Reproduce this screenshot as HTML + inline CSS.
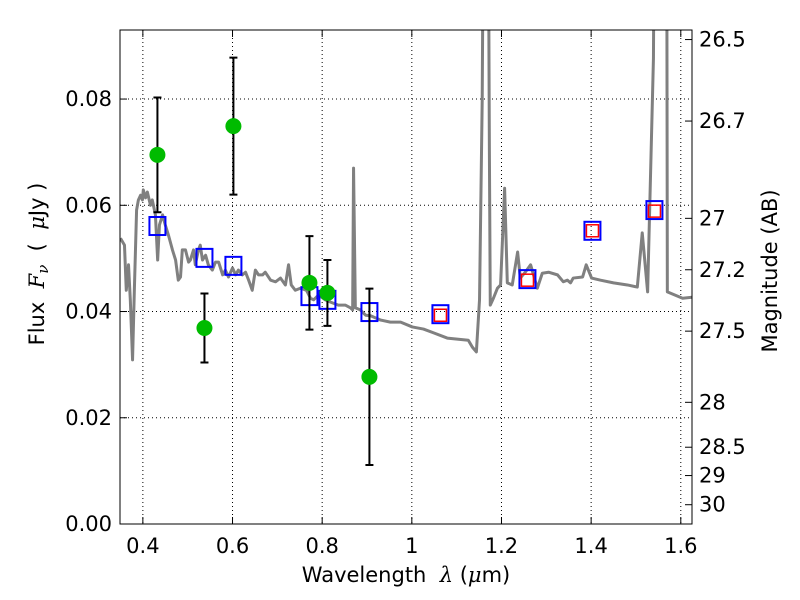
<!DOCTYPE html>
<html><head><meta charset="utf-8"><style>
body{margin:0;background:#fff;}
svg{display:block;font-family:"DejaVu Sans","Liberation Sans",sans-serif;}
</style></head><body>
<svg id="chart" width="800" height="600" xmlns="http://www.w3.org/2000/svg">
<defs><clipPath id="clip"><rect x="120" y="30" width="572" height="494"/></clipPath></defs>
<rect x="0" y="0" width="800" height="600" fill="#fff"/>
<g id="grid"></g>
<g id="spec" clip-path="url(#clip)"></g>
<g id="marks"></g>
<rect x="120" y="30" width="572" height="494" fill="none" stroke="#000" stroke-width="1"/>
<g id="axes"></g>
<text x="406" y="582" font-size="21" text-anchor="middle">Wavelength&#160;&#160;<tspan font-family="DejaVu Serif" font-style="italic">λ</tspan>&#160;(<tspan font-family="DejaVu Serif" font-style="italic">μ</tspan>m)</text>
<text transform="translate(44,264) rotate(-90)" font-size="21" text-anchor="middle">Flux&#160;&#160;<tspan font-family="DejaVu Serif" font-style="italic">F<tspan font-size="15" dy="4">ν</tspan></tspan><tspan dy="-4">&#160;&#160;(&#160;&#160;</tspan><tspan font-family="DejaVu Serif" font-style="italic">μ</tspan>Jy&#160;)</text>
<text transform="translate(777,271) rotate(-90)" font-size="21" text-anchor="middle">Magnitude (AB)</text>
</svg>
<script>
const specWave=[0.350,0.359,0.363,0.368,0.372,0.377,0.381,0.386,0.390,0.395,0.399,0.401,0.406,0.410,0.417,0.421,0.428,0.433,0.437,0.444,0.450,0.457,0.466,0.473,0.479,0.484,0.488,0.495,0.502,0.506,0.513,0.517,0.524,0.528,0.533,0.540,0.546,0.555,0.562,0.569,0.578,0.584,0.591,0.600,0.607,0.613,0.622,0.629,0.636,0.644,0.651,0.658,0.667,0.673,0.685,0.696,0.707,0.718,0.725,0.731,0.740,0.752,0.765,0.774,0.781,0.792,0.807,0.818,0.836,0.852,0.863,0.868,0.870,0.874,0.885,0.897,0.908,0.919,0.930,0.952,0.975,1.001,1.026,1.048,1.079,1.126,1.135,1.144,1.151,1.157,1.162,1.169,1.173,1.175,1.182,1.191,1.198,1.207,1.213,1.224,1.236,1.242,1.253,1.265,1.280,1.291,1.305,1.325,1.338,1.347,1.354,1.360,1.381,1.389,1.401,1.421,1.450,1.481,1.503,1.514,1.526,1.539,1.543,1.568,1.570,1.604,1.626];
const specFlux=[0.0538,0.0525,0.0440,0.0488,0.0422,0.0309,0.0440,0.0591,0.0610,0.0619,0.0610,0.0629,0.0614,0.0625,0.0600,0.0610,0.0582,0.0497,0.0563,0.0582,0.0563,0.0544,0.0516,0.0497,0.0459,0.0465,0.0516,0.0516,0.0493,0.0497,0.0516,0.0488,0.0516,0.0525,0.0497,0.0506,0.0488,0.0478,0.0493,0.0493,0.0469,0.0478,0.0465,0.0482,0.0469,0.0478,0.0469,0.0474,0.0459,0.0440,0.0478,0.0469,0.0469,0.0474,0.0459,0.0456,0.0463,0.0450,0.0488,0.0450,0.0440,0.0444,0.0440,0.0425,0.0422,0.0431,0.0422,0.0418,0.0412,0.0412,0.0407,0.0403,0.0670,0.0407,0.0403,0.0393,0.0392,0.0388,0.0384,0.0380,0.0380,0.0371,0.0367,0.0360,0.0350,0.0346,0.0333,0.0324,0.0422,0.0798,0.15,0.15,0.0704,0.0412,0.0425,0.0444,0.0450,0.0632,0.0454,0.0450,0.0512,0.0463,0.0474,0.0488,0.0444,0.0472,0.0474,0.0469,0.0456,0.0459,0.0454,0.0463,0.0465,0.0488,0.0463,0.0459,0.0454,0.0450,0.0446,0.0548,0.0437,0.0877,0.15,0.15,0.0437,0.0425,0.0427];
const modelWave=[0.4325,0.5374,0.602,0.7716,0.8117,0.9054,1.0638,1.2579,1.4029,1.5412];
const modelFlux=[0.0561,0.0501,0.0486,0.0429,0.0422,0.0399,0.0395,0.0461,0.0552,0.0591];
const redWave=[1.0638,1.2579,1.4029,1.5412];
const redFlux=[0.0393,0.0459,0.0552,0.0589];
const obsWave=[0.4325,0.5374,0.602,0.7716,0.8117,0.9054];
const obsFlux=[0.0695,0.0369,0.0749,0.0454,0.0435,0.0277];
const obsErr=[0.0108,0.0065,0.0129,0.0088,0.0062,0.0166];
const xTicks=[0.4,0.6,0.8,1.0,1.2,1.4,1.6];
const xTickLabels=["0.4","0.6","0.8","1","1.2","1.4","1.6"];
const yTicks=[0,0.02,0.04,0.06,0.08];
const yTickLabels=["0.00","0.02","0.04","0.06","0.08"];
const magTicks=[26.5,26.7,27,27.2,27.5,28,28.5,29,30];
const magTickLabels=["26.5","26.7","27","27.2","27.5","28","28.5","29","30"];

const NS="http://www.w3.org/2000/svg";
const X0=120,X1=692,Y0=524,Y1=30,xmin=0.349,xmax=1.625,ymin=0,ymax=0.093;
const sx=v=>X0+(v-xmin)/(xmax-xmin)*(X1-X0);
const sy=v=>Y0-(v-ymin)/(ymax-ymin)*(Y0-Y1);
function mk(tag,attrs,parent){const e=document.createElementNS(NS,tag);for(const k in attrs)e.setAttribute(k,attrs[k]);parent.appendChild(e);return e;}
const grid=document.getElementById('grid'),axes=document.getElementById('axes'),spec=document.getElementById('spec'),marks=document.getElementById('marks');

xTicks.forEach((t,i)=>{const x=sx(t);
 const g=mk('line',{x1:x,x2:x,y1:Y1,y2:Y0,stroke:'#000','stroke-dasharray':'1,3','stroke-width':1},grid);
 
 const a=mk('line',{x1:x,x2:x,y1:Y0,y2:Y0-7,stroke:'#000'},axes);
 
 mk('line',{x1:x,x2:x,y1:Y1,y2:Y1+7,stroke:'#000'},axes);
 const tx=mk('text',{x:x,y:553,'font-size':21,'text-anchor':'middle'},axes);tx.textContent=xTickLabels[i];
 
});
yTicks.forEach((t,i)=>{const y=sy(t);
 const g=mk('line',{x1:X0,x2:X1,y1:y,y2:y,stroke:'#000','stroke-dasharray':'1,3','stroke-width':1},grid);
 
 const a=mk('line',{x1:X0,x2:X0+7,y1:y,y2:y,stroke:'#000'},axes);
 
 const tx=mk('text',{x:112,y:y+7,'font-size':21,'text-anchor':'end'},axes);tx.textContent=yTickLabels[i];
 
});
magTicks.forEach((m,i)=>{const y=sy(Math.pow(10,(23.9-m)/2.5));
 const a=mk('line',{x1:X1,x2:X1-7,y1:y,y2:y,stroke:'#000'},axes);
 
 const tx=mk('text',{x:699,y:y+7,'font-size':21},axes);tx.textContent=magTickLabels[i];
 
});

const path=mk('polyline',{points:specWave.map((w,i)=>sx(w)+','+sy(specFlux[i])).join(' '),fill:'none',stroke:'#808080','stroke-width':3,'stroke-linejoin':'round'},spec);


modelWave.forEach((w,i)=>{const x=sx(w),y=sy(modelFlux[i]);
 const r=mk('rect',{x:x-8,y:y-9,width:16,height:18,fill:'none',stroke:'#0000ff','stroke-width':2},marks);
 
});
redWave.forEach((w,i)=>{const x=sx(w),y=sy(redFlux[i]);
 const r=mk('rect',{x:x-6,y:y-6,width:12,height:12,fill:'none',stroke:'#ff0000','stroke-width':1.5},marks);
 
});
obsWave.forEach((w,i)=>{const x=sx(w),y=sy(obsFlux[i]),yt=sy(obsFlux[i]+obsErr[i]),yb=sy(obsFlux[i]-obsErr[i]);
 const e=mk('path',{d:`M${x},${yt}V${yb}M${x-4},${yt}H${x+4}M${x-4},${yb}H${x+4}`,stroke:'#000','stroke-width':2,fill:'none'},marks);
 
 const c=mk('circle',{cx:x,cy:y,r:8,fill:'#00bb00'},marks);
 
});
</script>
</body></html>
